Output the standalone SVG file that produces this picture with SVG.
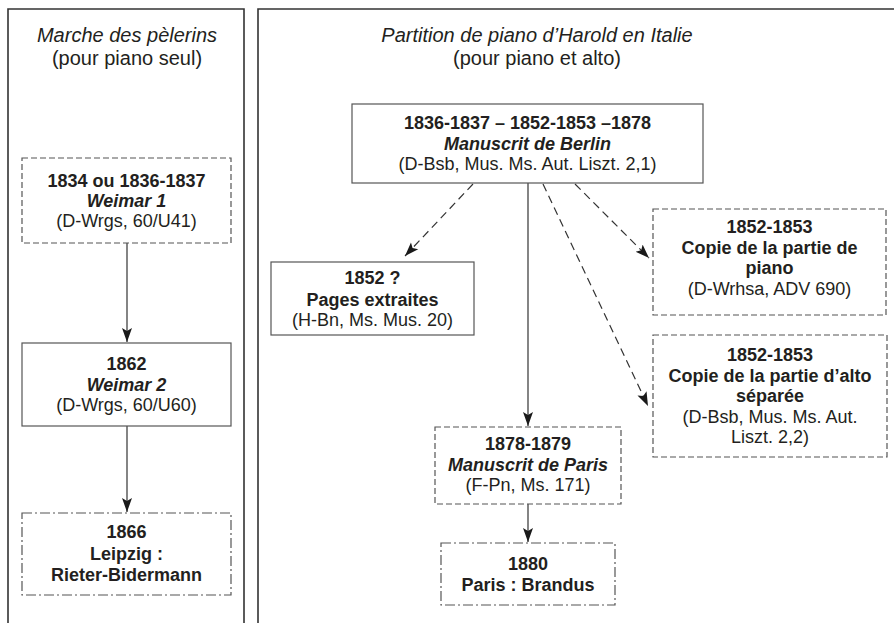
<svg xmlns="http://www.w3.org/2000/svg" width="894" height="623" viewBox="0 0 894 623">
<defs>
<style>
text{font-family:"Liberation Sans",Arial,sans-serif;fill:#231f20;text-anchor:middle}
.t{font-size:20px}
.i{font-style:italic}
.n{font-size:18px}
.b{font-weight:bold}
.panel{fill:none;stroke:#333;stroke-width:1.6}
.box{fill:#fff;stroke:#555;stroke-width:1.2}
.dash{stroke-dasharray:6,3}
.dd{stroke-dasharray:10,3,2,3}
.c{fill:none;stroke:#333;stroke-width:1.2}
.cd{stroke-dasharray:8,5}
</style>
<marker id="ah" markerUnits="userSpaceOnUse" markerWidth="16" markerHeight="12" refX="14" refY="5.5" orient="auto" viewBox="0 0 16 12">
<path d="M0,0.5 L14,5.5 L0,10.5 L3,5.5 z" fill="#1a1a1a"/>
</marker>
</defs>
<g id="panel-left">
<path class="panel" d="M8,623 V9 H244 V623"/>
<text class="t i" x="127" y="42">Marche des pèlerins</text>
<text class="t" x="127" y="65">(pour piano seul)</text>
</g>
<g id="panel-right">
<path class="panel" d="M258,623 V9 H894"/>
<text class="t i" x="537" y="42">Partition de piano d’Harold en Italie</text>
<text class="t" x="537" y="65">(pour piano et alto)</text>
</g>
<g id="connectors">
<line class="c" x1="127" y1="243" x2="127" y2="342" marker-end="url(#ah)"/>
<line class="c" x1="127" y1="426" x2="127" y2="512" marker-end="url(#ah)"/>
<line class="c" x1="528" y1="183" x2="528" y2="426" marker-end="url(#ah)"/>
<line class="c" x1="528" y1="504" x2="528" y2="542" marker-end="url(#ah)"/>
<line class="c cd" x1="473" y1="184" x2="405" y2="256" marker-end="url(#ah)"/>
<line class="c cd" x1="575" y1="184" x2="649" y2="258" marker-end="url(#ah)"/>
<line class="c cd" x1="543" y1="184" x2="648" y2="406" marker-end="url(#ah)"/>
</g>
<g id="weimar1">
<rect class="box dash" x="22" y="158" width="209" height="85"/>
<text class="n b" x="126.5" y="187">1834 ou 1836-1837</text>
<text class="n b i" x="126.5" y="207">Weimar 1</text>
<text class="n" x="126.5" y="227">(D-Wrgs, 60/U41)</text>
</g>
<g id="weimar2">
<rect class="box" x="22" y="343" width="209" height="83"/>
<text class="n b" x="126.5" y="370">1862</text>
<text class="n b i" x="126.5" y="390.5">Weimar 2</text>
<text class="n" x="126.5" y="411">(D-Wrgs, 60/U60)</text>
</g>
<g id="leipzig">
<rect class="box dd" x="22" y="513" width="209" height="82"/>
<text class="n b" x="126.5" y="538">1866</text>
<text class="n b" x="126.5" y="559.5">Leipzig : </text>
<text class="n b" x="126.5" y="581">Rieter-Bidermann</text>
</g>
<g id="berlin">
<rect class="box" x="352" y="104" width="351" height="79"/>
<text class="n b" x="527.5" y="129">1836-1837 – 1852-1853 –1878</text>
<text class="n b i" x="527.5" y="150">Manuscrit de Berlin</text>
<text class="n" x="527.5" y="170">(D-Bsb, Mus. Ms. Aut. Liszt. 2,1)</text>
</g>
<g id="pages">
<rect class="box" x="271" y="262" width="203" height="73"/>
<text class="n b" x="372.5" y="284">1852 ?</text>
<text class="n b" x="372.5" y="305.5">Pages extraites</text>
<text class="n" x="372.5" y="326">(H-Bn, Ms. Mus. 20)</text>
</g>
<g id="paris">
<rect class="box dash" x="435" y="427" width="186" height="77"/>
<text class="n b" x="528" y="450">1878-1879</text>
<text class="n b i" x="528" y="470.5">Manuscrit de Paris</text>
<text class="n" x="528" y="491">(F-Pn, Ms. 171)</text>
</g>
<g id="brandus">
<rect class="box dd" x="441" y="543" width="174" height="62"/>
<text class="n b" x="528" y="570">1880</text>
<text class="n b" x="528" y="591">Paris : Brandus</text>
</g>
<g id="copie-piano">
<rect class="box dash" x="653" y="209" width="233" height="106"/>
<text class="n b" x="769.5" y="233">1852-1853</text>
<text class="n b" x="769.5" y="253.5">Copie de la partie de</text>
<text class="n b" x="769.5" y="274">piano</text>
<text class="n" x="769.5" y="295">(D-Wrhsa, ADV 690)</text>
</g>
<g id="copie-alto">
<rect class="box dash" x="653" y="335" width="234" height="122"/>
<text class="n b" x="770" y="361">1852-1853</text>
<text class="n b" x="770" y="381.5">Copie de la partie d’alto</text>
<text class="n b" x="770" y="402">séparée</text>
<text class="n" x="770" y="422.5">(D-Bsb, Mus. Ms. Aut.</text>
<text class="n" x="770" y="443">Liszt. 2,2)</text>
</g>
</svg>
